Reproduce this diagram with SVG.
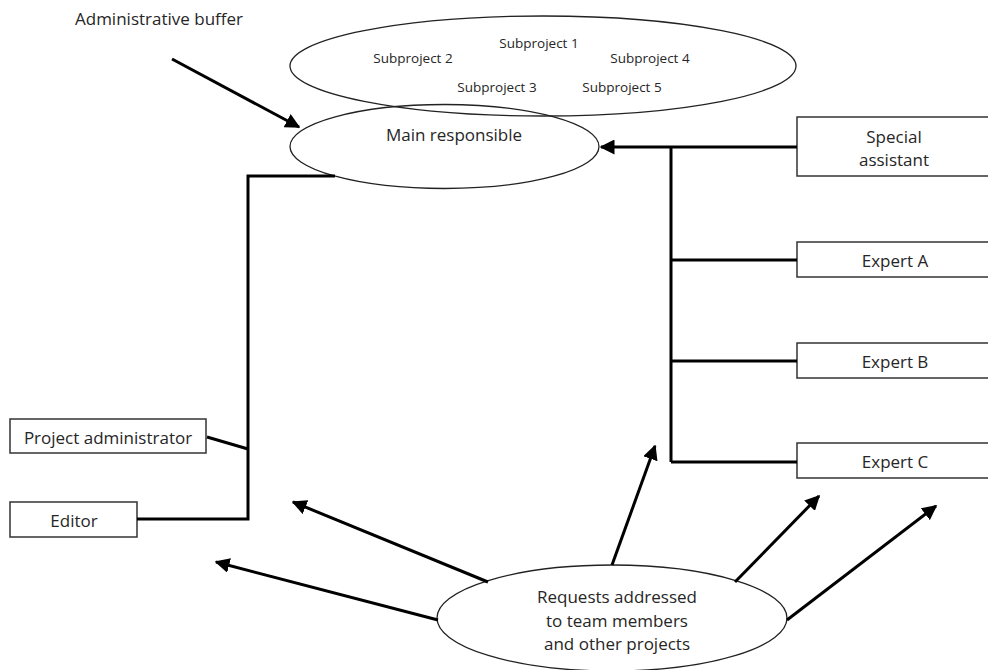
<svg xmlns="http://www.w3.org/2000/svg" width="988" height="670" viewBox="0 0 988 670">
<defs>
<marker id="ah" viewBox="0 0 10 10" refX="9" refY="5" markerWidth="5" markerHeight="5" markerUnits="strokeWidth" orient="auto">
<path d="M0,0 L10,5 L0,10 z" fill="#000"/>
</marker>
<style>
.t{font-family:"Open Sans","Liberation Sans",sans-serif;fill:#262626;text-anchor:middle;dominant-baseline:central}
.big{font-size:17px}
.sm{font-size:13.5px}
.ell{fill:#fff;stroke:#222;stroke-width:1.3}
.box{fill:#fff;stroke:#333;stroke-width:1.5}
.ln{fill:none;stroke:#000;stroke-width:3}
.ar{fill:none;stroke:#000;stroke-width:3;marker-end:url(#ah)}
</style>
</defs>
<rect width="988" height="670" fill="#fff"/>
<g id="admin-buffer"><text class="t big" x="159" y="18">Administrative buffer</text></g>
<g id="subprojects">
<ellipse class="ell" cx="543" cy="66" rx="253" ry="50"/>
<text class="t sm" x="413" y="58">Subproject 2</text>
<text class="t sm" x="539" y="43">Subproject 1</text>
<text class="t sm" x="650" y="58">Subproject 4</text>
<text class="t sm" x="497" y="87">Subproject 3</text>
<text class="t sm" x="622" y="87">Subproject 5</text>
</g>
<g id="main">
<ellipse class="ell" cx="444.5" cy="146.5" rx="154.5" ry="42" fill-opacity="0"/>
<text class="t big" x="454" y="134">Main responsible</text>
</g>
<g id="special"><rect class="box" x="797" y="117" width="200" height="59"/>
<text class="t big" x="894" y="136">Special</text><text class="t big" x="894" y="159">assistant</text></g>
<g id="expertA"><rect class="box" x="797" y="242" width="200" height="35"/><text class="t big" x="895" y="260">Expert A</text></g>
<g id="expertB"><rect class="box" x="797" y="343" width="200" height="35"/><text class="t big" x="895" y="361">Expert B</text></g>
<g id="expertC"><rect class="box" x="797" y="443" width="200" height="35"/><text class="t big" x="895" y="461">Expert C</text></g>
<g id="projadmin"><rect class="box" x="10" y="419" width="196" height="34"/><text class="t big" x="108" y="437">Project administrator</text></g>
<g id="editor"><rect class="box" x="10" y="502" width="127" height="35"/><text class="t big" x="74" y="520">Editor</text></g>
<g id="requests"><ellipse class="ell" cx="612" cy="618" rx="175" ry="53"/>
<text class="t big" x="617" y="596">Requests addressed</text>
<text class="t big" x="617" y="620">to team members</text>
<text class="t big" x="617" y="643">and other projects</text></g>
<g id="connectors">
<path class="ar" d="M172,59 L299,127"/>
<path class="ar" d="M797,147 L601,147"/>
<path class="ln" d="M671,147 V462 M671,260 H797 M671,361 H797 M671,462 H797"/>
<path class="ln" d="M335,176 H248 V519 H137 M207,437 L248,449"/>
<path class="ar" d="M438,620 L216,562"/>
<path class="ar" d="M488,582 L293,502"/>
<path class="ar" d="M612,565 L655,446"/>
<path class="ar" d="M735,582 L819,496"/>
<path class="ar" d="M787,620 L936,506"/>
</g>
</svg>
